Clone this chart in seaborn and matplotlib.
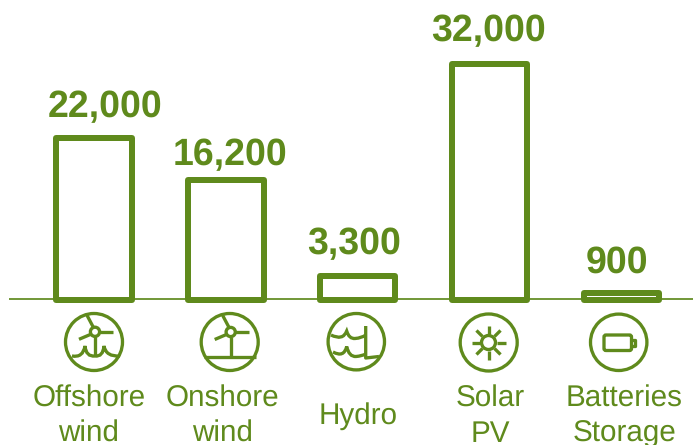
import numpy as np
import matplotlib
matplotlib.use("Agg")
import matplotlib.pyplot as plt
from matplotlib.path import Path
from matplotlib.patches import PathPatch, Circle, FancyBboxPatch
import seaborn as sns

categories = ["Offshore\nwind", "Onshore\nwind", "Hydro", "Solar\nPV", "Batteries\nStorage"]
values = [22000, 16200, 3300, 32000, 900]
value_labels = ["22,000", "16,200", "3,300", "32,000", "900"]

GREEN = "#5f8a1c"
LINE = "#74993c"
W, H = 693, 445
PX = 72 / 100  # points per pixel

sns.set_theme(style="white")
plt.rcParams["font.family"] = ["Liberation Sans", "DejaVu Sans"]
plt.rcParams["text.hinting"] = "none"

fig = plt.figure(figsize=(W / 100, H / 100), dpi=100, facecolor="white")
base_y, left = 300, 10
ax = fig.add_axes([left / W, (H - base_y) / H, (W - left) / W, base_y / H])
ax.patch.set_alpha(0)

sns.barplot(x=list(range(len(values))), y=values, ax=ax, fill=False, color=GREEN,
            saturation=1, width=0.572, linewidth=6 * PX, native_scale=True)
for p in ax.patches:
    p.set_edgecolor(GREEN)
    p.set_linewidth(6 * PX)
    p.set_joinstyle("round")
    p.set_clip_on(False)
    p.set_zorder(3)

spacing = 131.9
x0 = 93.9
ax.set_xlim(-(x0 - left) / spacing, (W - x0) / spacing)
ax.set_ylim(0, (base_y) / 0.007384)
ax.set_xticks([])
ax.set_yticks([])
ax.set_xlabel("")
ax.set_ylabel("")
sns.despine(ax=ax, left=True)
ax.spines["bottom"].set_position(("outward", -1 * PX))
ax.spines["bottom"].set_color(LINE)
ax.spines["bottom"].set_linewidth(2 * PX)
ax.spines["bottom"].set_zorder(1)

val_dx = [11.2, 4.0, -3.2, -1, -4.5]
val_dy = [20.5, 15.4, 21.6, 22.2, 20.4]
for i, (v, s) in enumerate(zip(values, value_labels)):
    ax.annotate(s, xy=(i, v), xytext=(val_dx[i] * PX, val_dy[i] * PX),
                textcoords="offset points", ha="center", va="baseline",
                fontsize=27, fontweight="bold", color=GREEN,
                annotation_clip=False)

cat_dx = [-5, -3, 0, 1, 3]
for i, s in enumerate(categories):
    ax.annotate(s, xy=(i, 0), xytext=(cat_dx[i] * PX, -116.5 * PX),
                textcoords="offset points", ha="center", va="center",
                fontsize=21.3, color=GREEN, linespacing=1.36,
                annotation_clip=False)

# icon layer, in pixel coordinates
ov = fig.add_axes([0, 0, 1, 1], zorder=5)
ov.set_xlim(0, W)
ov.set_ylim(H, 0)
ov.axis("off")
ov.patch.set_alpha(0)
ILW = 3.3 * PX


def ring(cx, cy, r):
    ov.add_patch(Circle((cx, cy), r, fill=False, ec=GREEN, lw=ILW))


def seg(*pts):
    xs, ys = zip(*pts)
    ov.plot(xs, ys, color=GREEN, lw=ILW, solid_capstyle="butt", solid_joinstyle="round")


def curve(start, *pairs):
    verts = [start]
    codes = [Path.MOVETO]
    for c, e in pairs:
        verts += [c, e]
        codes += [Path.CURVE3, Path.CURVE3]
    ov.add_patch(PathPatch(Path(verts, codes), fill=False, ec=GREEN, lw=ILW))


def turbine(hx, hy):
    ov.add_patch(Circle((hx, hy), 4.6, fill=False, ec=GREEN, lw=ILW))
    seg((hx - 1.6, hy - 4.4), (hx - 8, hy - 16.5))
    seg((hx + 4.6, hy), (hx + 18, hy))
    seg((hx - 4, hy + 2.4), (hx - 16, hy + 7.5))


# offshore wind
ring(94, 342, 28.5)
turbine(95, 331.8)
seg((95, 336.4), (95, 355.5))
curve((72, 356), ((83, 358), (85, 346)), ((86, 357), (95, 356)),
      ((103, 357), (104, 346)), ((106, 357), (120, 356)))

# onshore wind
ring(229.7, 342, 28.5)
turbine(230.7, 332)
seg((230.7, 336.6), (230.7, 356))
seg((204, 356.5), (255.5, 356.5))

# hydro
ring(356.3, 341.7, 28.2)
curve((331, 335), ((343, 341), (346.7, 331)), ((349, 339), (355, 338.5)),
      ((362, 338), (365.7, 335)))
curve((333, 352), ((344, 358), (346.7, 346.5)), ((349, 357), (356, 356.5)),
      ((362, 356), (365.7, 354)))
seg((365.7, 326), (365.7, 358), (379, 356.5))

# solar
ring(488.7, 342.5, 28.5)
ov.add_patch(Circle((488.5, 342.5), 7, fill=False, ec=GREEN, lw=ILW))
for a in np.deg2rad(np.arange(0, 360, 45)):
    seg((488.5 + 8.5 * np.cos(a), 342.5 + 8.5 * np.sin(a)),
        (488.5 + 17 * np.cos(a), 342.5 + 17 * np.sin(a)))

# batteries
ring(618.7, 342.3, 28.2)
ov.add_patch(FancyBboxPatch((604, 335), 27.5, 15.5, boxstyle="round,pad=0,rounding_size=2",
                            fill=False, ec=GREEN, lw=ILW))
seg((632, 339.5), (635, 339.5), (635, 345.5), (632, 345.5))

fig.savefig("out.png", dpi=100, facecolor="white")
